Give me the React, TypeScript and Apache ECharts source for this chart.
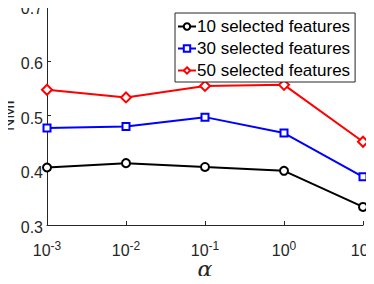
import React, { useEffect, useRef } from "react";
import * as echarts from "echarts";

const alphas = [0.001, 0.01, 0.1, 1, 10];
const seriesNames = ["10 selected features", "30 selected features", "50 selected features"];
const nmi10 = [0.405, 0.413, 0.406, 0.399, 0.333];
const nmi30 = [0.477, 0.48, 0.497, 0.468, 0.388];
const nmi50 = [0.547, 0.533, 0.554, 0.556, 0.452];
const colors = ["#000000", "#0000ff", "#ff0000"];
const symbols = ["circle", "rect", "diamond"];
const symbolSizes = [8, 7, 10];

const FONT = "Liberation Sans, Arial, Helvetica, sans-serif";

export default function App() {
  const ref = useRef<HTMLDivElement>(null);
  useEffect(() => {
    const chart = echarts.init(ref.current!, null, { renderer: "svg" });
    const all = [nmi10, nmi30, nmi50];
    chart.setOption({
      animation: false,
      backgroundColor: "#ffffff",
      textStyle: { fontFamily: FONT },
      grid: { left: 47, right: 11, top: 6, bottom: 59, containLabel: false, outerBoundsMode: "none" },
      legend: {
        left: 175,
        top: 13,
        orient: "vertical",
        data: seriesNames,
        itemWidth: 18,
        itemHeight: 8,
        itemGap: 5,
        padding: [5, 5, 3, 2],
        borderColor: "#262626",
        borderWidth: 1,
        backgroundColor: "#ffffff",
        textStyle: { fontSize: 17, color: "#000", fontFamily: FONT, padding: [0, 0, 0, -4] },
      },
      xAxis: {
        type: "log",
        logBase: 10,
        min: 0.001,
        max: 10,
        name: "α",
        nameLocation: "middle",
        nameGap: 36,
        nameMoveOverlap: false,
        nameTextStyle: { fontSize: 22, fontStyle: "italic", fontFamily: "DejaVu Serif, serif", color: "#262626", lineHeight: 16 },
        axisLine: { lineStyle: { color: "#262626", width: 1 } },
        axisTick: { inside: true, length: 4, lineStyle: { color: "#262626" } },
        splitLine: { show: false },
        minorTick: { show: false },
        axisLabel: {
          color: "#262626",
          margin: 15,
          formatter: (v: number) => `{b|10}{s|${Math.round(Math.log10(v))}}`,
          rich: {
            b: { fontSize: 16, color: "#262626", fontFamily: FONT },
            s: { fontSize: 12, color: "#262626", fontFamily: FONT, padding: [0, 0, 9, 0] },
          },
        },
      },
      yAxis: {
        type: "value",
        min: 0.3,
        max: 0.7,
        interval: 0.1,
        name: "NMI",
        nameLocation: "middle",
        nameGap: 32,
        nameMoveOverlap: false,
        nameTextStyle: { fontSize: 17, color: "#262626", fontFamily: FONT, lineHeight: 14 },
        axisLine: { show: true, lineStyle: { color: "#262626", width: 1 } },
        axisTick: { show: true, inside: true, length: 4, lineStyle: { color: "#262626" } },
        splitLine: { show: false },
        axisLabel: {
          color: "#262626",
          fontSize: 16,
          lineHeight: 5,
          verticalAlign: "top",
          margin: 4,
          formatter: (v: number) => v.toFixed(1),
        },
      },
      series: seriesNames.map((name, i) => ({
        name,
        type: "line",
        data: alphas.map((a, j) => [a, all[i][j]]),
        symbol: symbols[i],
        symbolSize: symbolSizes[i],
        showAllSymbol: true,
        lineStyle: { color: colors[i], width: 2 },
        itemStyle: { color: "#ffffff", borderColor: colors[i], borderWidth: 2 },
        emphasis: { disabled: true },
      })),
    });
    return () => chart.dispose();
  }, []);
  return <div ref={ref} style={{ width: 374, height: 284, margin: -8 }} />;
}
